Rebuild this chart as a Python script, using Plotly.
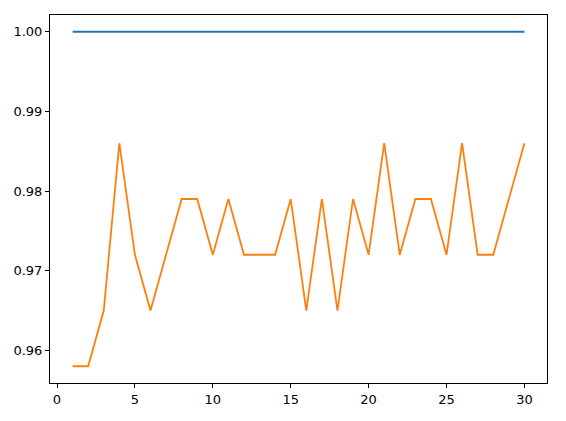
import plotly.graph_objects as go

epochs = list(range(1, 31))
train_acc = [1.0] * 30
val_acc = [0.958, 0.958, 0.965, 0.986, 0.972, 0.965, 0.972, 0.979, 0.979, 0.972,
           0.979, 0.972, 0.972, 0.972, 0.979, 0.965, 0.979, 0.965, 0.979, 0.972,
           0.986, 0.972, 0.979, 0.979, 0.972, 0.986, 0.972, 0.972, 0.979, 0.986]

fig = go.Figure()
fig.add_trace(go.Scatter(x=epochs, y=train_acc, mode="lines",
                         line=dict(color="#1f77b4", width=1.8)))
fig.add_trace(go.Scatter(x=epochs, y=val_acc, mode="lines",
                         line=dict(color="#ff7f0e", width=1.8)))

axis_common = dict(showline=True, linecolor="black", linewidth=1, mirror=True,
                   ticks="outside", ticklen=4, tickwidth=1, tickcolor="black",
                   showgrid=False, zeroline=False, automargin=False,
                   tickfont=dict(family="DejaVu Sans", size=13, color="black"))

fig.update_layout(
    width=566, height=421,
    margin=dict(l=42, r=27, t=7, b=46),
    paper_bgcolor="white", plot_bgcolor="white",
    showlegend=False,
    xaxis=dict(range=[-0.45, 31.45], tick0=0, dtick=5, **axis_common),
    yaxis=dict(range=[0.9559, 1.0021], tick0=0.96, dtick=0.01, tickformat=".2f",
               **axis_common),
)

fig.write_html("out.html")
